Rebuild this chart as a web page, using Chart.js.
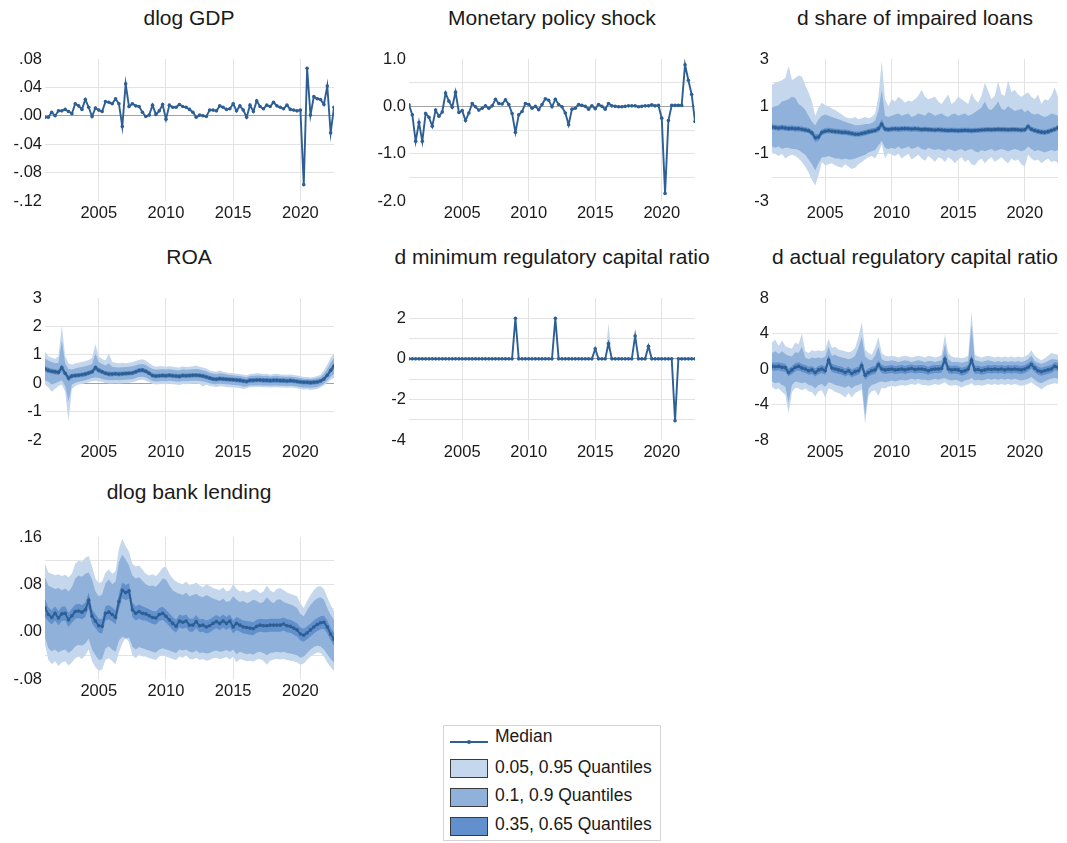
<!DOCTYPE html>
<html>
<head>
<meta charset="utf-8">
<script src="https://cdn.jsdelivr.net/npm/chart.js@4.4.1/dist/chart.umd.min.js"></script>
<style>
  html, body { margin: 0; padding: 0; background: #fff; }
  #page { position: relative; width: 1067px; height: 843px; overflow: hidden;
          font-family: "Liberation Sans", Arial, sans-serif; color: #1a1a1a; }
  .title { position: absolute; width: 400px; text-align: center; font-size: 21px;
           line-height: 24px; white-space: nowrap; }
  canvas { position: absolute; }
  #legend { position: absolute; left: 443px; top: 725px; width: 218px; height: 116px;
            border: 1px solid #d4d4d4; box-sizing: border-box; }
  #legend .txt { position: absolute; left: 51px; font-size: 17.5px; line-height: 20px; white-space: nowrap; }
  #legend .sw { position: absolute; left: 6px; width: 38px; height: 19px; border: 1px solid #3a3a3a; box-sizing: border-box; }
  #legend .ln { position: absolute; left: 6px; width: 38px; height: 2px; top: 15px; }
  #legend .dot { position: absolute; left: 23px; top: 14px; width: 4px; height: 4px; border-radius: 2px; }
</style>
</head>
<body>
<div id="page"></div>
<script>
// ─── DATOS (trimestral, 2001Q1 - 2022Q3) ──────────────────────────────────

const quarters = [];
for (let y = 2001; y <= 2022; y++) {
  for (let q = 1; q <= 4; q++) {
    if (quarters.length < 87) quarters.push(y + 'Q' + q);
  }
}

const gdp = [-0.002,-0.002,0.005,0.000,0.007,0.007,0.009,0.006,0.003,0.017,
  0.014,0.009,0.023,0.012,-0.001,0.011,0.008,0.006,0.020,0.019,
  0.017,0.024,0.017,-0.015,0.045,0.013,0.017,0.014,0.013,0.005,
  -0.001,0.001,0.015,0.002,0.007,0.016,-0.005,0.015,0.012,0.012,
  0.016,0.013,0.012,0.009,0.005,-0.002,0.001,0.000,-0.001,0.008,
  0.008,0.007,0.014,0.012,0.009,0.010,0.017,0.007,0.014,0.008,
  -0.002,0.015,0.006,0.021,0.013,0.010,0.015,0.013,0.019,0.014,
  0.012,0.010,0.015,0.009,0.008,0.007,0.008,-0.097,0.067,0.001,
  0.027,0.024,0.023,0.016,0.042,-0.024,0.012];

const mps = [0.03,-0.18,-0.74,-0.34,-0.74,-0.15,-0.23,-0.42,-0.08,-0.21,
  -0.12,0.28,0.11,-0.02,0.30,-0.13,-0.09,-0.30,-0.14,0.06,
  -0.01,-0.08,-0.04,0.01,-0.04,0.01,0.15,0.06,0.05,0.14,
  0.04,-0.15,-0.55,-0.18,-0.11,0.06,0.04,-0.04,0.00,-0.07,
  0.04,0.16,0.13,-0.01,0.15,0.04,-0.01,-0.14,-0.39,-0.06,
  -0.04,0.04,0.02,0.00,-0.06,0.01,-0.05,0.04,0.00,-0.06,
  0.06,0.01,0.00,-0.01,-0.01,0.00,0.01,0.01,0.01,-0.01,
  0.00,0.01,0.01,0.03,0.01,0.02,-0.25,-1.84,-0.30,0.02,
  0.02,0.02,0.02,0.88,0.55,0.25,-0.32];

// d share of impaired loans
const impMed = [0.12,0.10,0.08,0.10,0.08,0.06,0.07,0.05,0.05,0.03,0.00,-0.03,
  -0.12,-0.33,-0.30,-0.10,
  -0.05,-0.03,-0.05,-0.07,-0.08,-0.10,-0.10,-0.12,
  -0.15,-0.18,-0.18,-0.15,-0.12,-0.08,-0.05,-0.02,
  0.05,0.25,0.04,0.02,
  0.04,0.05,0.04,0.05,0.06,0.05,0.04,0.05,0.04,0.02,0.03,0.02,0.01,0.00,0.01,
  0.00,-0.01,-0.02,-0.01,-0.02,-0.03,-0.02,-0.01,-0.02,-0.03,-0.02,-0.01,0.00,0.01,
  0.02,0.01,0.02,0.03,0.02,0.02,0.01,0.02,0.02,0.01,0.00,0.01,0.15,0.03,-0.02,
  -0.06,-0.09,-0.10,-0.07,-0.02,0.03,0.10];
const impQ65 = [0.24,0.22,0.20,0.22,0.20,0.18,0.19,0.17,0.17,0.15,0.12,0.09,
  0.00,-0.18,-0.16,0.02,
  0.07,0.09,0.07,0.05,0.04,0.02,0.02,0.00,
  -0.03,-0.06,-0.06,-0.03,0.00,0.04,0.07,0.10,
  0.20,0.45,0.15,0.13,
  0.15,0.16,0.15,0.16,0.17,0.16,0.15,0.16,0.15,0.13,0.14,0.13,0.12,0.11,0.12,
  0.11,0.10,0.09,0.10,0.09,0.08,0.09,0.10,0.09,0.08,0.09,0.10,0.11,0.12,
  0.13,0.12,0.13,0.14,0.13,0.13,0.12,0.13,0.13,0.12,0.11,0.12,0.27,0.14,0.09,
  0.05,0.02,0.01,0.04,0.09,0.14,0.21];
const impQ35 = [0.01,-0.01,-0.03,-0.01,-0.03,-0.05,-0.04,-0.06,-0.06,-0.08,-0.11,-0.14,
  -0.25,-0.50,-0.45,-0.22,
  -0.16,-0.14,-0.16,-0.18,-0.19,-0.21,-0.21,-0.23,
  -0.26,-0.29,-0.29,-0.26,-0.23,-0.19,-0.16,-0.13,
  -0.08,0.08,-0.07,-0.09,
  -0.07,-0.06,-0.07,-0.06,-0.05,-0.06,-0.07,-0.06,-0.07,-0.09,-0.08,-0.09,-0.10,-0.11,-0.10,
  -0.11,-0.12,-0.13,-0.12,-0.13,-0.14,-0.13,-0.12,-0.13,-0.14,-0.13,-0.12,-0.11,-0.10,
  -0.09,-0.10,-0.09,-0.08,-0.09,-0.09,-0.10,-0.09,-0.09,-0.10,-0.11,-0.10,0.03,-0.08,-0.13,
  -0.17,-0.20,-0.21,-0.18,-0.13,-0.08,-0.01];
const impQ90 = [0.95,1.00,1.05,1.20,1.25,1.30,1.40,1.35,1.10,1.00,0.85,0.60,
  0.35,0.20,0.45,0.60,
  0.65,0.60,0.55,0.50,0.45,0.40,0.35,0.30,
  0.25,0.20,0.20,0.22,0.25,0.25,0.30,0.40,
  0.80,1.70,0.60,0.55,
  0.60,0.65,0.70,0.60,0.65,0.70,0.55,0.60,0.70,0.65,0.60,0.75,0.70,0.60,0.65,
  0.70,0.60,0.55,0.65,0.70,0.60,0.65,0.70,0.60,0.65,0.75,0.85,0.95,1.20,
  0.90,0.85,1.00,1.20,0.90,0.85,1.00,0.90,0.80,0.85,0.90,0.75,0.85,0.70,0.65,
  0.70,0.60,0.55,0.60,0.70,0.65,0.60];
const impQ10 = [-0.70,-0.75,-0.70,-0.80,-0.75,-0.75,-0.80,-0.80,-0.85,-0.95,-1.05,-1.25,
  -1.45,-1.70,-1.40,-1.15,
  -1.15,-1.10,-1.15,-1.20,-1.20,-1.25,-1.20,-1.25,
  -1.25,-1.20,-1.15,-1.10,-1.05,-0.95,-0.90,-0.85,
  -0.65,-0.45,-0.75,-0.80,
  -0.75,-0.80,-0.70,-0.80,-0.75,-0.70,-0.80,-0.75,-0.70,-0.80,-0.85,-0.75,-0.80,-0.85,-0.80,
  -0.85,-0.90,-0.80,-0.85,-0.90,-0.85,-0.80,-0.90,-0.85,-0.80,-0.90,-0.95,-0.85,-0.90,
  -0.85,-0.80,-0.90,-0.85,-0.80,-0.85,-0.90,-0.85,-0.80,-0.85,-0.90,-0.85,-0.70,-0.80,-0.90,
  -0.85,-0.90,-0.95,-0.90,-0.85,-0.90,-0.85];
const impQ95 = [1.90,2.00,2.05,2.10,2.20,2.70,2.10,2.20,2.30,2.25,1.90,1.60,
  1.20,0.60,0.95,1.15,
  1.05,1.00,0.90,0.85,0.75,0.65,0.55,0.50,
  0.50,0.55,0.45,0.50,0.55,0.50,0.55,0.70,
  1.40,2.90,1.30,1.00,
  1.30,1.20,1.40,1.30,1.15,1.25,1.20,1.30,1.45,1.70,1.40,1.30,1.35,1.40,1.20,
  1.10,1.30,1.50,1.10,1.20,1.40,1.30,1.20,1.10,1.55,1.30,1.15,1.45,2.00,
  1.65,1.30,1.45,2.05,1.50,1.45,2.10,1.60,1.70,1.50,1.40,1.50,1.60,1.40,1.30,
  1.50,1.10,1.30,1.25,1.45,1.80,1.40];
const impQ05 = [-0.95,-1.00,-1.10,-1.00,-1.20,-1.10,-1.05,-1.10,-1.20,-1.35,-1.55,-1.80,
  -2.10,-2.35,-1.90,-1.35,
  -1.50,-1.45,-1.40,-1.50,-1.55,-1.60,-1.45,-1.55,
  -1.65,-1.60,-1.45,-1.35,-1.25,-1.15,-1.10,-1.20,
  -0.95,-0.60,-1.20,-0.95,
  -1.05,-1.10,-1.00,-1.20,-1.10,-1.00,-1.25,-1.15,-1.05,-1.20,-1.30,-1.10,-1.20,-1.35,-1.15,
  -1.20,-1.35,-1.15,-1.25,-1.40,-1.25,-1.15,-1.35,-1.25,-1.45,-1.50,-1.30,-1.20,-1.40,
  -1.25,-1.15,-1.35,-1.25,-1.15,-1.30,-1.40,-1.20,-1.30,-1.25,-1.45,-1.55,-1.05,-1.20,-1.30,
  -1.25,-1.40,-1.30,-1.20,-1.35,-1.30,-1.40];

// ROA
const roaMed = [0.50,0.45,0.42,0.40,0.38,0.55,0.35,0.18,0.25,0.27,0.28,0.30,
  0.32,0.36,0.40,0.55,0.45,0.40,0.35,0.32,0.32,0.33,0.32,0.33,
  0.34,0.35,0.36,0.40,0.45,0.46,0.42,0.35,0.27,0.25,0.26,0.27,
  0.26,0.28,0.26,0.25,0.24,0.27,0.26,0.27,0.28,0.28,0.27,0.25,
  0.22,0.18,0.15,0.14,0.16,0.15,0.14,0.13,0.12,0.11,0.10,0.08,
  0.06,0.10,0.10,0.11,0.11,0.10,0.10,0.09,0.10,0.10,0.09,0.09,
  0.08,0.09,0.08,0.06,0.04,0.03,0.03,0.02,0.03,0.04,0.08,0.15,
  0.28,0.45,0.60];
const roaQ65 = [0.60,0.54,0.51,0.49,0.47,0.68,0.45,0.28,0.33,0.35,0.36,0.38,
  0.40,0.44,0.48,0.65,0.54,0.48,0.43,0.41,0.40,0.41,0.40,0.41,
  0.42,0.43,0.44,0.48,0.53,0.54,0.50,0.43,0.35,0.33,0.34,0.35,
  0.34,0.36,0.34,0.33,0.32,0.35,0.34,0.35,0.36,0.36,0.35,0.33,
  0.30,0.26,0.23,0.22,0.24,0.23,0.22,0.21,0.20,0.19,0.18,0.16,
  0.14,0.18,0.18,0.19,0.19,0.18,0.18,0.17,0.18,0.18,0.17,0.17,
  0.16,0.17,0.16,0.14,0.12,0.11,0.11,0.10,0.11,0.12,0.15,0.22,
  0.36,0.54,0.70];
const roaQ35 = [0.40,0.36,0.33,0.31,0.29,0.42,0.25,0.05,0.17,0.19,0.20,0.22,
  0.24,0.28,0.32,0.45,0.36,0.32,0.27,0.24,0.24,0.25,0.24,0.25,
  0.26,0.27,0.28,0.32,0.37,0.38,0.34,0.27,0.19,0.17,0.18,0.19,
  0.18,0.20,0.18,0.17,0.16,0.19,0.18,0.19,0.20,0.20,0.19,0.17,
  0.14,0.10,0.07,0.06,0.08,0.07,0.06,0.05,0.04,0.03,0.02,0.00,
  -0.02,0.02,0.02,0.03,0.03,0.02,0.02,0.01,0.02,0.02,0.01,0.01,
  0.00,0.01,0.00,-0.02,-0.04,-0.05,-0.05,-0.06,-0.05,-0.04,0.01,0.08,
  0.20,0.36,0.50];
const roaQ90 = [0.87,0.80,0.75,0.70,0.72,1.50,0.70,0.50,0.48,0.52,0.55,0.57,
  0.60,0.63,0.68,1.05,0.75,0.68,0.62,0.70,0.58,0.56,0.55,0.56,
  0.57,0.58,0.60,0.63,0.67,0.68,0.64,0.56,0.50,0.47,0.48,0.49,
  0.48,0.49,0.47,0.46,0.45,0.49,0.47,0.48,0.49,0.50,0.48,0.45,
  0.42,0.37,0.34,0.32,0.35,0.33,0.31,0.29,0.28,0.26,0.25,0.23,
  0.21,0.25,0.26,0.27,0.27,0.25,0.26,0.24,0.25,0.26,0.24,0.24,
  0.23,0.24,0.22,0.20,0.18,0.16,0.16,0.15,0.16,0.18,0.22,0.33,
  0.50,0.72,0.90];
const roaQ10 = [0.10,0.05,-0.05,0.00,0.05,0.10,-0.10,-0.65,-0.05,0.02,0.05,0.08,
  0.10,0.14,0.18,0.20,0.18,0.15,0.12,0.10,0.10,0.11,0.10,0.11,
  0.12,0.13,0.14,0.18,0.22,0.23,0.20,0.14,0.08,0.06,0.07,0.08,
  0.07,0.09,0.07,0.06,0.05,0.08,0.07,0.08,0.09,0.09,0.08,0.06,
  0.03,0.00,-0.03,-0.04,-0.02,-0.03,-0.04,-0.05,-0.06,-0.07,-0.08,-0.12,
  -0.12,-0.08,-0.08,-0.07,-0.07,-0.08,-0.08,-0.09,-0.08,-0.08,-0.09,-0.09,
  -0.10,-0.09,-0.10,-0.12,-0.14,-0.15,-0.15,-0.16,-0.15,-0.13,-0.08,-0.02,
  0.10,0.22,0.33];
const roaQ95 = [1.10,0.95,0.90,0.85,0.95,2.03,0.95,0.70,0.65,0.70,0.72,0.75,
  0.78,0.82,0.90,1.37,0.95,0.85,0.80,1.05,0.75,0.72,0.70,0.72,
  0.70,0.72,0.74,0.78,0.82,0.84,0.80,0.70,0.62,0.58,0.60,0.60,
  0.58,0.60,0.58,0.56,0.55,0.60,0.57,0.58,0.60,0.62,0.58,0.55,
  0.52,0.45,0.42,0.40,0.45,0.40,0.38,0.36,0.35,0.33,0.32,0.30,
  0.28,0.32,0.33,0.35,0.34,0.32,0.33,0.30,0.32,0.33,0.31,0.30,
  0.30,0.31,0.29,0.27,0.25,0.22,0.22,0.20,0.22,0.25,0.30,0.45,
  0.65,0.90,1.05];
const roaQ05 = [-0.05,-0.15,-0.30,-0.20,-0.10,-0.05,-0.30,-1.35,-0.20,-0.10,-0.05,-0.03,
  0.00,0.03,0.07,0.08,0.07,0.04,0.01,-0.01,-0.01,0.00,-0.01,0.00,
  0.01,0.02,0.03,0.07,0.11,0.12,0.09,0.03,-0.03,-0.05,-0.04,-0.03,
  -0.04,-0.02,-0.04,-0.05,-0.06,-0.03,-0.04,-0.03,-0.02,-0.02,-0.03,-0.12,
  -0.05,-0.10,-0.12,-0.13,-0.11,-0.12,-0.13,-0.14,-0.15,-0.16,-0.17,-0.20,
  -0.18,-0.14,-0.14,-0.13,-0.13,-0.14,-0.14,-0.15,-0.14,-0.14,-0.15,-0.15,
  -0.16,-0.15,-0.16,-0.18,-0.20,-0.22,-0.21,-0.24,-0.22,-0.20,-0.15,-0.08,
  0.02,0.12,0.18];

// d minimum regulatory capital ratio
const minMed = [0,0,0,0,0,0,0,0,0,0,0,0,0,0,0,0,0,0,0,0,
  0,0,0,0,0,0,0,0,0,0,0,0,2.0,0,0,0,0,0,0,0,
  0,0,0,0,2.0,0,0,0,0,0,0,0,0,0,0,0,0.5,0,0,0,
  0.75,0,0,0,0,0,0,0,1.13,0,0,0,0.62,0,0,0,0,0,0,0,
  -3.05,0,0,0,0,0,0];
const minQ95 = [0,0,0,0,0,0,0,0,0,0,0,0,0,0,0,0,0,0,0,0,
  0,0,0,0,0,0,0,0,0,0,0,0,2.0,0,0,0,0,0,0,0,
  0,0,0,0,2.0,0,0,0,0,0,0,0,0,0,0,0,0.5,0,0,0,
  1.75,0,0,0,0,0,0,0,1.13,0,0,0,0.62,0,0,0,0,0,0,0,
  -3.05,0,0,0,0,0,0];

// d actual regulatory capital ratio
const actMed = [0.30,0.25,0.30,0.20,0.15,-0.40,-0.10,0.20,0.30,0.10,0.00,-0.20,
  -0.10,-0.40,-0.10,0.00,-0.20,1.00,0.10,0.00,-0.10,-0.20,-0.40,-0.20,
  -0.50,-0.30,-0.20,0.40,-0.70,-0.40,-0.20,-0.10,0.50,0.00,-0.10,-0.05,
  0.00,-0.10,-0.05,0.00,-0.10,0.00,0.05,-0.05,0.00,0.00,-0.05,-0.20,
  -0.05,0.00,0.00,0.05,1.10,0.00,-0.10,-0.05,-0.10,-0.30,-0.20,0.00,
  1.00,-0.10,-0.05,-0.20,-0.10,0.00,-0.05,0.00,-0.05,0.00,-0.10,0.00,
  -0.05,0.00,-0.05,-0.10,0.00,0.20,0.50,0.10,-0.20,-0.30,-0.20,-0.10,
  0.00,0.30,0.20];
const actQ65 = [0.75,0.70,0.75,0.65,0.60,0.05,0.35,0.65,0.75,0.55,0.45,0.25,
  0.35,0.05,0.35,0.45,0.25,1.60,0.55,0.45,0.35,0.25,0.05,0.25,
  -0.05,0.15,0.25,1.00,-0.25,0.05,0.25,0.35,1.00,0.45,0.35,0.40,
  0.45,0.35,0.40,0.45,0.35,0.45,0.50,0.40,0.45,0.45,0.40,0.25,
  0.40,0.45,0.45,0.50,1.70,0.45,0.35,0.40,0.35,0.15,0.25,0.45,
  1.60,0.35,0.40,0.25,0.35,0.45,0.40,0.45,0.40,0.45,0.35,0.45,
  0.40,0.45,0.40,0.35,0.45,0.65,0.95,0.55,0.25,0.15,0.25,0.35,
  0.45,0.75,0.65];
const actQ35 = [-0.15,-0.20,-0.15,-0.25,-0.30,-0.85,-0.55,-0.25,-0.15,-0.35,-0.45,-0.65,
  -0.55,-0.85,-0.55,-0.45,-0.65,0.50,-0.35,-0.45,-0.55,-0.65,-0.85,-0.65,
  -0.95,-0.75,-0.65,-0.10,-1.20,-0.85,-0.65,-0.55,0.05,-0.45,-0.55,-0.50,
  -0.45,-0.55,-0.50,-0.45,-0.55,-0.45,-0.40,-0.50,-0.45,-0.45,-0.50,-0.65,
  -0.50,-0.45,-0.45,-0.40,0.60,-0.45,-0.55,-0.50,-0.55,-0.75,-0.65,-0.45,
  0.50,-0.55,-0.50,-0.65,-0.55,-0.45,-0.50,-0.45,-0.50,-0.45,-0.55,-0.45,
  -0.50,-0.45,-0.50,-0.55,-0.45,-0.25,0.05,-0.35,-0.65,-0.75,-0.65,-0.55,
  -0.45,-0.15,-0.25];
const actQ90 = [1.8,2.0,1.7,2.0,1.7,1.5,1.4,1.9,1.8,2.5,1.3,1.1,
  1.3,1.2,1.3,1.2,1.4,2.5,1.5,1.6,1.4,1.3,1.2,1.1,
  1.2,1.5,2.4,3.6,1.4,1.1,1.0,1.5,2.5,1.1,0.9,0.9,
  1.0,0.9,0.8,0.9,1.0,0.9,0.8,0.9,1.0,0.9,0.8,0.9,
  0.9,0.8,0.9,1.0,2.8,1.1,0.8,0.8,0.8,0.7,0.8,0.9,
  4.9,1.0,0.9,0.8,0.9,1.0,0.9,0.8,0.9,0.8,0.9,0.8,
  0.9,0.8,0.9,0.8,0.9,1.1,1.5,0.9,0.7,0.6,0.7,0.9,
  1.1,1.1,1.0];
const actQ10 = [-1.4,-1.6,-1.5,-1.8,-2.0,-3.8,-1.8,-1.4,-1.5,-1.6,-1.5,-1.8,
  -1.9,-2.2,-1.8,-1.7,-2.0,-1.5,-1.6,-1.8,-1.9,-2.0,-2.1,-1.9,
  -2.2,-1.9,-1.8,-1.6,-5.3,-2.2,-1.8,-1.7,-1.5,-1.4,-1.5,-1.4,
  -1.3,-1.4,-1.3,-1.2,-1.3,-1.2,-1.1,-1.2,-1.1,-1.2,-1.2,-1.3,
  -1.2,-1.1,-1.2,-1.1,-1.0,-1.2,-1.3,-1.2,-1.3,-1.5,-1.3,-1.2,
  -1.0,-1.3,-1.2,-1.3,-1.2,-1.1,-1.2,-1.1,-1.2,-1.1,-1.2,-1.1,
  -1.2,-1.1,-1.2,-1.3,-1.2,-1.1,-0.9,-1.2,-1.5,-1.6,-1.4,-1.2,
  -1.1,-1.0,-1.1];
const actQ95 = [3.0,3.3,2.6,3.2,2.6,2.4,2.3,3.0,2.8,4.0,2.0,1.8,
  2.1,2.0,2.1,2.0,2.2,3.4,2.4,2.5,2.2,2.1,2.0,1.9,
  2.0,2.4,3.6,5.3,2.2,1.8,1.6,2.4,3.6,1.8,1.5,1.4,
  1.5,1.4,1.3,1.4,1.5,1.4,1.3,1.4,1.5,1.4,1.3,1.5,
  1.4,1.3,1.4,1.6,3.9,1.8,1.4,1.3,1.3,1.2,1.3,1.5,
  6.5,1.6,1.4,1.3,1.4,1.5,1.4,1.3,1.4,1.3,1.4,1.3,
  1.4,1.3,1.4,1.3,1.4,1.6,2.1,1.5,1.2,1.0,1.2,1.5,
  1.8,1.7,1.6];
const actQ05 = [-2.0,-2.3,-2.2,-2.6,-2.9,-5.0,-2.6,-2.1,-2.2,-2.4,-2.2,-2.5,
  -2.6,-3.1,-2.5,-2.4,-3.2,-2.2,-2.3,-2.6,-2.7,-2.9,-3.2,-2.7,
  -3.2,-2.7,-2.5,-2.3,-6.2,-3.0,-2.5,-2.4,-3.0,-2.1,-2.2,-2.0,
  -1.9,-2.0,-1.9,-1.8,-1.9,-1.8,-1.7,-1.8,-1.6,-1.8,-1.8,-1.9,
  -1.8,-1.7,-1.8,-1.7,-1.5,-1.8,-1.9,-1.8,-1.9,-2.1,-1.9,-1.8,
  -1.6,-1.9,-1.8,-1.9,-1.8,-1.7,-1.8,-1.7,-1.8,-1.7,-1.8,-1.7,
  -1.8,-1.7,-1.8,-1.9,-1.8,-1.7,-1.5,-1.8,-2.0,-2.3,-2.0,-1.8,
  -1.7,-1.6,-1.7];

// dlog bank lending
const lendMed = [0.040,0.029,0.024,0.031,0.023,0.030,0.031,0.020,0.027,0.034,
  0.035,0.033,0.037,0.053,0.026,0.018,0.010,0.009,0.031,0.033,
  0.029,0.024,0.051,0.070,0.066,0.069,0.037,0.031,0.034,0.031,
  0.030,0.027,0.024,0.023,0.029,0.031,0.026,0.020,0.014,0.009,
  0.018,0.016,0.018,0.011,0.011,0.017,0.010,0.011,0.008,0.010,
  0.014,0.017,0.014,0.018,0.014,0.018,0.008,0.014,0.011,0.008,
  0.007,0.006,0.005,0.009,0.011,0.010,0.010,0.011,0.011,0.011,
  0.011,0.013,0.010,0.009,0.006,0.003,-0.004,-0.006,-0.002,0.003,
  0.008,0.012,0.015,0.016,0.008,-0.004,-0.013];
const lendQ65 = [0.055,0.041,0.036,0.043,0.035,0.042,0.043,0.032,0.039,0.046,
  0.047,0.045,0.049,0.066,0.038,0.030,0.022,0.021,0.043,0.045,
  0.041,0.036,0.064,0.083,0.079,0.082,0.049,0.043,0.046,0.043,
  0.041,0.038,0.035,0.034,0.040,0.042,0.037,0.031,0.025,0.020,
  0.029,0.027,0.029,0.022,0.022,0.028,0.021,0.022,0.019,0.021,
  0.025,0.028,0.025,0.029,0.025,0.029,0.019,0.025,0.022,0.019,
  0.018,0.017,0.016,0.020,0.022,0.021,0.021,0.022,0.022,0.022,
  0.022,0.024,0.021,0.020,0.017,0.014,0.007,0.005,0.009,0.014,
  0.019,0.023,0.026,0.027,0.019,0.007,-0.002];
const lendQ35 = [0.025,0.017,0.012,0.019,0.011,0.018,0.019,0.008,0.015,0.022,
  0.023,0.021,0.025,0.040,0.014,0.006,-0.002,-0.003,0.019,0.021,
  0.017,0.012,0.038,0.057,0.053,0.056,0.025,0.019,0.022,0.019,
  0.019,0.016,0.013,0.012,0.018,0.020,0.015,0.009,0.003,-0.002,
  0.007,0.005,0.007,0.000,0.000,0.006,-0.001,0.000,-0.003,-0.001,
  0.003,0.006,0.003,0.007,0.003,0.007,-0.003,0.003,0.000,-0.003,
  -0.004,-0.005,-0.006,-0.002,0.000,-0.001,-0.001,0.000,0.000,0.000,
  0.000,0.002,-0.001,-0.002,-0.005,-0.008,-0.015,-0.017,-0.013,-0.008,
  -0.003,0.001,0.004,0.005,-0.003,-0.015,-0.024];
const lendQ90 = [0.092,0.078,0.075,0.072,0.074,0.070,0.073,0.068,0.075,
  0.090,0.095,0.093,0.098,0.100,0.088,
  0.068,0.060,0.063,
  0.082,0.088,0.080,0.085,
  0.118,0.130,0.122,0.112,
  0.095,0.090,0.092,0.086,
  0.080,0.077,0.078,0.076,0.082,0.090,
  0.088,0.078,0.070,0.066,0.064,0.062,0.066,0.060,0.062,0.064,0.060,0.058,0.062,0.059,0.056,
  0.054,0.052,0.056,0.050,0.052,0.060,0.054,0.050,0.052,0.048,0.050,0.054,0.052,0.048,0.050,0.058,0.052,0.048,0.054,0.055,
  0.050,0.048,0.046,0.044,0.040,
  0.030,0.026,
  0.036,0.045,0.052,0.056,0.058,0.054,
  0.040,0.028,0.020];
const lendQ10 = [-0.010,-0.028,-0.033,-0.030,-0.035,-0.032,-0.030,-0.036,-0.032,
  -0.025,-0.022,-0.024,-0.020,-0.012,-0.030,
  -0.040,-0.048,-0.046,
  -0.028,-0.025,-0.030,-0.034,
  -0.015,-0.008,-0.012,-0.010,
  -0.025,-0.030,-0.026,-0.028,
  -0.030,-0.032,-0.034,-0.035,-0.030,-0.028,
  -0.030,-0.032,-0.034,-0.036,-0.030,-0.032,-0.030,-0.034,-0.035,-0.032,-0.036,-0.035,-0.037,-0.036,-0.033,
  -0.032,-0.034,-0.033,-0.031,-0.034,-0.030,-0.038,-0.034,-0.036,-0.038,-0.037,-0.039,-0.035,-0.034,-0.036,-0.040,-0.036,-0.035,-0.034,-0.035,
  -0.034,-0.036,-0.037,-0.038,-0.040,
  -0.044,-0.042,
  -0.036,-0.030,-0.026,-0.024,-0.025,-0.030,
  -0.038,-0.046,-0.052];
const lendQ95 = [0.115,0.100,0.098,0.095,0.097,0.094,0.096,0.092,0.098,
  0.115,0.120,0.118,0.125,0.128,0.110,
  0.090,0.082,0.085,
  0.100,0.105,0.098,0.102,
  0.140,0.157,0.145,0.135,
  0.115,0.110,0.112,0.105,
  0.098,0.095,0.097,0.094,0.100,0.108,
  0.110,0.098,0.090,0.085,0.082,0.080,0.085,0.078,0.080,0.083,0.078,0.075,0.080,0.077,0.074,
  0.072,0.070,0.075,0.068,0.070,0.080,0.072,0.068,0.070,0.066,0.068,0.072,0.070,0.065,0.068,0.078,0.070,0.066,0.072,0.074,
  0.070,0.066,0.064,0.062,0.060,
  0.048,0.040,
  0.052,0.062,0.070,0.076,0.077,0.072,
  0.058,0.045,0.035];
const lendQ05 = [-0.022,-0.048,-0.055,-0.050,-0.058,-0.052,-0.050,-0.057,-0.052,
  -0.045,-0.042,-0.046,-0.040,-0.030,-0.050,
  -0.060,-0.066,-0.064,
  -0.048,-0.045,-0.050,-0.055,
  -0.035,-0.020,-0.010,-0.018,
  -0.040,-0.045,-0.038,-0.042,
  -0.042,-0.045,-0.046,-0.048,-0.042,-0.040,
  -0.042,-0.044,-0.046,-0.048,-0.042,-0.044,-0.040,-0.046,-0.047,-0.044,-0.048,-0.046,-0.049,-0.048,-0.045,
  -0.044,-0.046,-0.045,-0.043,-0.047,-0.042,-0.052,-0.046,-0.048,-0.050,-0.049,-0.051,-0.047,-0.046,-0.049,-0.056,-0.049,-0.047,-0.046,-0.047,
  -0.046,-0.048,-0.049,-0.050,-0.052,
  -0.056,-0.054,
  -0.048,-0.042,-0.038,-0.035,-0.036,-0.042,
  -0.052,-0.060,-0.066];

// ejes
const yearTicks = [2005, 2010, 2015, 2020];
const gdpTicks = [-0.12, -0.08, -0.04, 0, 0.04, 0.08];
const gdpLabels = ['-.12', '-.08', '-.04', '.00', '.04', '.08'];
const mpsTicks = [-2, -1.5, -1, -0.5, 0, 0.5, 1];
const mpsLabels = ['-2.0', '', '-1.0', '', '0.0', '', '1.0'];
const impTicks = [-3, -2, -1, 0, 1, 2, 3];
const impLabels = ['-3', '', '-1', '', '1', '', '3'];
const roaTicks = [-2, -1, 0, 1, 2, 3];
const roaLabels = ['-2', '-1', '0', '1', '2', '3'];
const minTicks = [-4, -3, -2, -1, 0, 1, 2, 3];
const minLabels = ['-4', '', '-2', '', '0', '', '2', ''];
const actTicks = [-8, -4, 0, 4, 8];
const actLabels = ['-8', '-4', '0', '4', '8'];
const lendTicks = [-0.08, -0.04, 0, 0.04, 0.08, 0.12, 0.16];
const lendLabels = ['-.08', '', '.00', '', '.08', '', '.16'];

const legendLabels = ['Median', '0.05, 0.95 Quantiles', '0.1, 0.9 Quantiles', '0.35, 0.65 Quantiles'];

// ─── ESTILO ───────────────────────────────────────────────────────────────

const FONT = '"Liberation Sans", Arial, sans-serif';
const LINE = '#2d5f94';
const LIGHT = '#c4d7ec';
const MID = '#90b2da';
const DARK = '#6190cc';
const GRID = '#e3e3e3';
const ZERO = '#a3a3a3';

const colLeft = [0, 364, 727];
const colPadRight = [6, 9, 9];
const rowTop = [0, 239, 478];
const titleTop = [6, 245, 480];
const titleCenter = [189, 552, 915];

[gdp, mps, impMed, impQ65, impQ35, impQ90, impQ10, impQ95, impQ05,
 roaMed, roaQ65, roaQ35, roaQ90, roaQ10, roaQ95, roaQ05, minMed, minQ95,
 actMed, actQ65, actQ35, actQ90, actQ10, actQ95, actQ05,
 lendMed, lendQ65, lendQ35, lendQ90, lendQ10, lendQ95, lendQ05].forEach((a, k) => {
  if (a.length !== quarters.length) throw new Error('serie ' + k + ' tiene ' + a.length);
});

function qx(label) {
  return parseInt(label.slice(0, 4)) + (parseInt(label.slice(5)) - 1) / 4;
}

function pts(arr) {
  return arr.map((v, i) => ({ x: qx(quarters[i]), y: v }));
}

// ─── PANELES ──────────────────────────────────────────────────────────────

const panels = [
  { col: 0, row: 0, title: 'dlog GDP', med: gdp, bands: [],
    min: -0.12, max: 0.08, ticks: gdpTicks, labels: gdpLabels },
  { col: 1, row: 0, title: 'Monetary policy shock', med: mps, bands: [],
    min: -2, max: 1, ticks: mpsTicks, labels: mpsLabels },
  { col: 2, row: 0, title: 'd share of impaired loans', med: impMed,
    bands: [[impQ65, impQ35, DARK], [impQ90, impQ10, MID], [impQ95, impQ05, LIGHT]],
    min: -3, max: 3, ticks: impTicks, labels: impLabels },
  { col: 0, row: 1, title: 'ROA', med: roaMed,
    bands: [[roaQ65, roaQ35, DARK], [roaQ90, roaQ10, MID], [roaQ95, roaQ05, LIGHT]],
    min: -2, max: 3, ticks: roaTicks, labels: roaLabels },
  { col: 1, row: 1, title: 'd minimum regulatory capital ratio', med: minMed,
    bands: [[minQ95, minMed, LIGHT]],
    min: -4, max: 3, ticks: minTicks, labels: minLabels },
  { col: 2, row: 1, title: 'd actual regulatory capital ratio', med: actMed,
    bands: [[actQ65, actQ35, DARK], [actQ90, actQ10, MID], [actQ95, actQ05, LIGHT]],
    min: -8, max: 8, ticks: actTicks, labels: actLabels },
  { col: 0, row: 2, title: 'dlog bank lending', med: lendMed,
    bands: [[lendQ65, lendQ35, DARK], [lendQ90, lendQ10, MID], [lendQ95, lendQ05, LIGHT]],
    min: -0.08, max: 0.16, ticks: lendTicks, labels: lendLabels }
];

const page = document.getElementById('page');

function dibujarPanel(p) {
  const t = document.createElement('div');
  t.className = 'title';
  t.textContent = p.title;
  t.style.left = (titleCenter[p.col] - 200) + 'px';
  t.style.top = titleTop[p.row] + 'px';
  page.appendChild(t);

  const cv = document.createElement('canvas');
  cv.width = 340;
  cv.height = 239;
  cv.style.left = colLeft[p.col] + 'px';
  cv.style.top = rowTop[p.row] + 'px';
  page.appendChild(cv);

  const datasets = [{
    data: pts(p.med),
    borderColor: LINE,
    borderWidth: 1.9,
    pointRadius: 1.8,
    pointBorderWidth: 0,
    pointBackgroundColor: LINE,
    fill: false
  }];
  // bandas de adentro hacia afuera; el primer dataset queda arriba
  p.bands.forEach(([hi, lo, color]) => {
    datasets.push({ data: pts(hi), borderColor: 'rgba(0,0,0,0)', borderWidth: 0,
                    pointRadius: 0, backgroundColor: color, fill: '+1' });
    datasets.push({ data: pts(lo), borderColor: 'rgba(0,0,0,0)', borderWidth: 0,
                    pointRadius: 0, fill: false });
  });

  const tickFont = { family: FONT, size: 16.5 };

  new Chart(cv, {
    type: 'line',
    data: { datasets },
    options: {
      responsive: false,
      animation: false,
      devicePixelRatio: 1,
      layout: { padding: { top: 59, right: colPadRight[p.col], bottom: 12, left: 0 } },
      elements: { line: { tension: 0 } },
      plugins: { legend: { display: false }, tooltip: { enabled: false } },
      scales: {
        x: {
          type: 'linear',
          min: 2001, max: 2022.5,
          afterBuildTicks: s => { s.ticks = yearTicks.map(v => ({ value: v })); },
          afterFit: s => { s.height = 26; },
          ticks: { callback: v => String(v), color: '#1a1a1a', font: tickFont,
                   padding: 3, maxRotation: 0, autoSkip: false },
          grid: { color: GRID, drawTicks: false },
          border: { display: false }
        },
        y: {
          min: p.min, max: p.max,
          afterBuildTicks: s => { s.ticks = p.ticks.map(v => ({ value: v })); },
          afterFit: s => { s.width = 45; },
          ticks: {
            callback: v => {
              const k = p.ticks.findIndex(tv => Math.abs(tv - v) < 1e-9);
              return k < 0 ? '' : p.labels[k];
            },
            color: '#1a1a1a', font: tickFont, padding: 3, autoSkip: false
          },
          grid: {
            drawTicks: false,
            color: ctx => {
              const v = ctx.tick ? ctx.tick.value : null;
              if (v === null) return GRID;
              if (Math.abs(v - p.min) < 1e-9 || Math.abs(v - p.max) < 1e-9) return 'rgba(0,0,0,0)';
              if (Math.abs(v) < 1e-9) return ZERO;
              return GRID;
            }
          },
          border: { display: false }
        }
      }
    }
  });
}

panels.forEach(dibujarPanel);

// ─── LEYENDA ──────────────────────────────────────────────────────────────

const legend = document.createElement('div');
legend.id = 'legend';
page.appendChild(legend);

const ln = document.createElement('div');
ln.className = 'ln';
ln.style.background = LINE;
legend.appendChild(ln);
const dot = document.createElement('div');
dot.className = 'dot';
dot.style.background = LINE;
legend.appendChild(dot);

const swatchColors = [LIGHT, MID, DARK];
const swatchTops = [33, 62, 91];
const textTops = [0, 31, 59, 88];

legendLabels.forEach((txt, k) => {
  if (k > 0) {
    const sw = document.createElement('div');
    sw.className = 'sw';
    sw.style.top = swatchTops[k - 1] + 'px';
    sw.style.background = swatchColors[k - 1];
    legend.appendChild(sw);
  }
  const d = document.createElement('div');
  d.className = 'txt';
  d.style.top = textTops[k] + 'px';
  d.textContent = txt;
  legend.appendChild(d);
});
</script>
</body>
</html>
